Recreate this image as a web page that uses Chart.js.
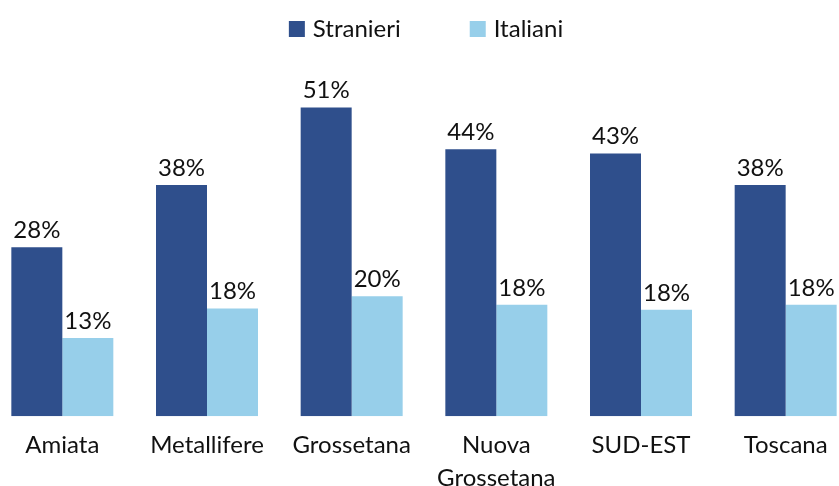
<!DOCTYPE html>
<html>
<head>
<meta charset="utf-8">
<script src="https://cdn.jsdelivr.net/npm/chart.js@4/dist/chart.umd.min.js"></script>
<style>
  html, body { margin: 0; padding: 0; background: #fff; }
  #wrap { position: relative; width: 839px; height: 486px; overflow: hidden; }
  #box { position: absolute; left: -10px; top: 0; width: 868px; height: 507px; }
</style>
</head>
<body>
<div id="wrap"><div id="box"><canvas id="c"></canvas></div></div>
<script>
const categories = ['Amiata', 'Metallifere', 'Grossetana', ['Nuova', 'Grossetana'], 'SUD-EST', 'Toscana'];
const seriesNames = ['Stranieri', 'Italiani'];
const stranieri = [27.9, 38.2, 51.0, 44.1, 43.4, 38.2];
const italiani = [12.9, 17.8, 19.8, 18.4, 17.6, 18.4];
const yTicks = [0, 10, 20, 30, 40, 50, 60];

const FONT = 'Lato';
const colors = ['#2F4F8C', '#97CFEA'];

const valueLabels = {
  id: 'valueLabels',
  afterDatasetsDraw(chart) {
    const ctx = chart.ctx;
    ctx.save();
    ctx.font = '24px ' + FONT;
    ctx.fillStyle = '#111';
    ctx.textAlign = 'center';
    ctx.textBaseline = 'alphabetic';
    chart.data.datasets.forEach((ds, i) => {
      const meta = chart.getDatasetMeta(i);
      meta.data.forEach((bar, j) => {
        ctx.fillText(Math.round(ds.data[j]) + '%', bar.x, bar.y - 9);
      });
    });
    ctx.restore();
  }
};

// Legend drawn from the datasets (wide spacing between items as in the reference)
const topLegend = {
  id: 'topLegend',
  afterDraw(chart) {
    const ctx = chart.ctx;
    ctx.save();
    ctx.font = '24px ' + FONT;
    const box = 16, gapText = 8, gapItem = 69;
    const items = chart.data.datasets.map(ds => ({ text: ds.label, color: ds.backgroundColor, w: ctx.measureText(ds.label).width }));
    let total = 0;
    items.forEach((it, i) => { total += box + gapText + it.w + (i ? gapItem : 0); });
    let x = chart.width / 2 + 2 - total / 2;
    const yBox = 21, yBase = 37;
    items.forEach(it => {
      ctx.fillStyle = it.color;
      ctx.fillRect(x, yBox, box, box);
      x += box + gapText;
      ctx.fillStyle = '#111';
      ctx.textAlign = 'left';
      ctx.textBaseline = 'alphabetic';
      ctx.fillText(it.text, x, yBase);
      x += it.w + gapItem;
    });
    ctx.restore();
  }
};

new Chart(document.getElementById('c'), {
  type: 'bar',
  data: {
    labels: categories,
    datasets: [
      { label: seriesNames[0], data: stranieri, backgroundColor: colors[0], barPercentage: 1, categoryPercentage: 0.705 },
      { label: seriesNames[1], data: italiani, backgroundColor: colors[1], barPercentage: 1, categoryPercentage: 0.705 }
    ]
  },
  options: {
    responsive: true,
    maintainAspectRatio: false,
    animation: false,
    layout: { padding: { top: 53, left: 0, right: 0, bottom: 0 } },
    plugins: {
      legend: { display: false },
      tooltip: { enabled: false }
    },
    scales: {
      x: {
        grid: { display: false, drawTicks: false },
        border: { display: false },
        ticks: { font: { family: FONT, size: 24, lineHeight: 1.35 }, color: '#111', padding: 13, maxRotation: 0, autoSkip: false }
      },
      y: {
        display: false,
        min: 0,
        max: 60,
        afterBuildTicks(scale) { scale.ticks = yTicks.map(v => ({ value: v })); }
      }
    }
  },
  plugins: [valueLabels, topLegend]
});
</script>
</body>
</html>
